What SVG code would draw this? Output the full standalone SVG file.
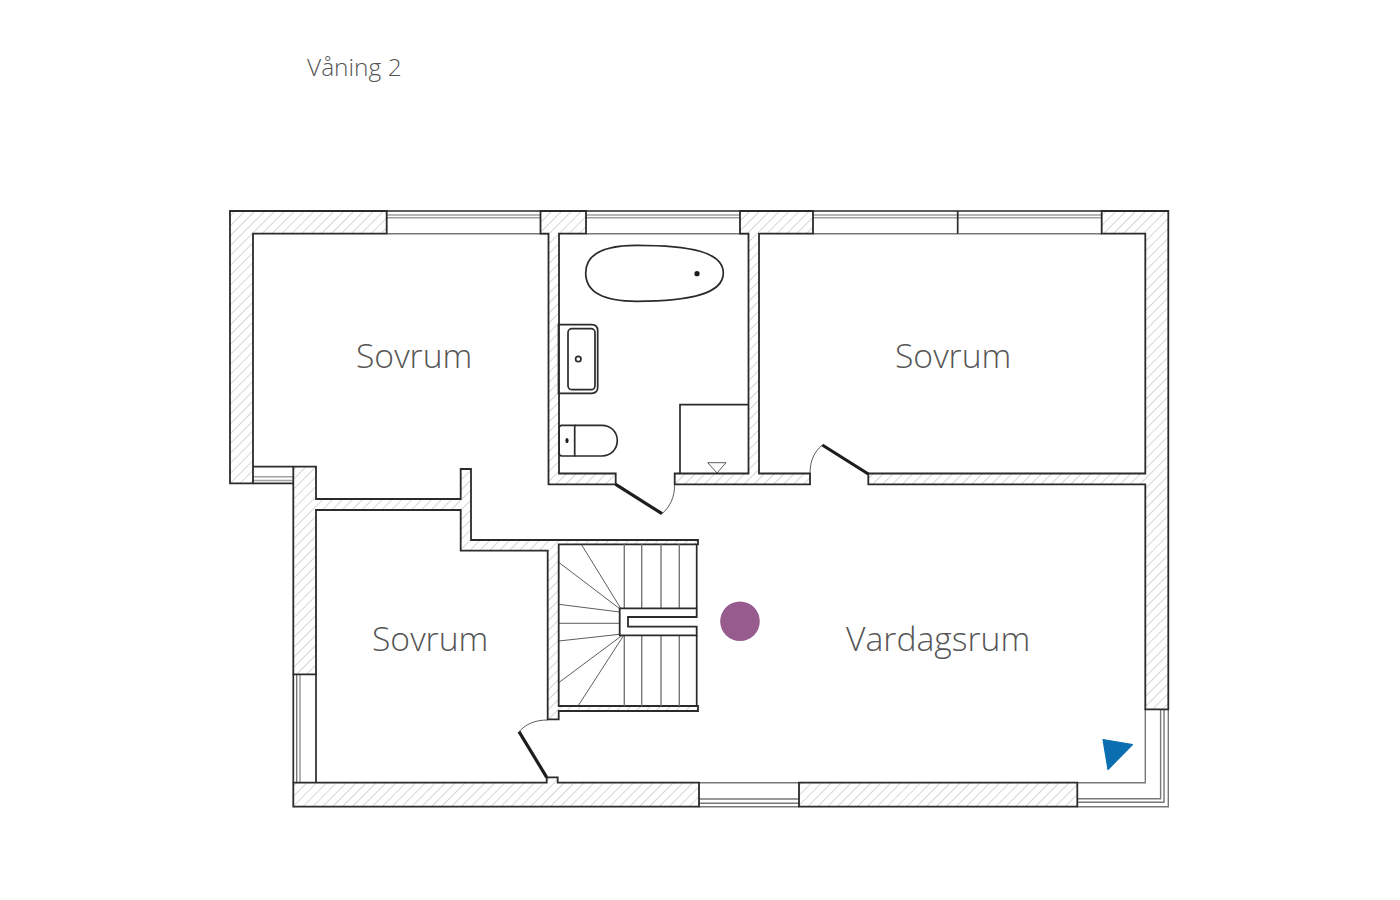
<svg xmlns="http://www.w3.org/2000/svg" width="1400" height="900" viewBox="0 0 1400 900">
<style>
.wall{fill:url(#hatch);stroke:#2b2b2b;stroke-width:1.8;stroke-linejoin:miter}
.line{fill:none;stroke:#2b2b2b;stroke-width:1.7}
.thin{fill:none;stroke:#333;stroke-width:.8}
.grey{fill:none;stroke:#777;stroke-width:1.4}
.glass{fill:none;stroke:#a0a0a0;stroke-width:1.6}
.leaf{fill:none;stroke:#1d1d1b;stroke-width:3.2}
.fix{fill:#fff;stroke:#2b2b2b;stroke-width:1.8}
.label{font-family:"Open Sans","Noto Sans",sans-serif;font-weight:300;fill:#555;font-size:33.7px}
</style>
<defs>
<pattern id="hatch" patternUnits="userSpaceOnUse" width="7" height="7" patternTransform="rotate(45)">
<rect width="7" height="7" fill="#fff"/>
<line x1="0" y1="0" x2="0" y2="7" stroke="#999" stroke-width=".8"/>
</pattern>
</defs>
<rect width="1400" height="900" fill="#fff"/>
<g id="windows">
<path class="line" d="M387 211H540M586 211H740M813 211H1102"/>
<path class="glass" d="M387 215H540M387 217.7H540M586 215H740M586 217.7H740M813 215H1102M813 217.7H1102"/>
<path class="grey" d="M387 233.7H548.5M586 233.7H748.5M813 233.7H1102"/>
<path class="line" d="M957.7 211V233.7"/>
<path class="line" d="M253 466.7H293.3"/>
<path class="glass" d="M253 476.7H293.3M253 480.5H293.3"/>
<path class="line" d="M253 483.3H293.3"/>
<path class="line" d="M293.3 674.3V782.7M316 674.3V782.7"/>
<path class="grey" d="M296.7 674.3V782.7"/>
<path class="glass" d="M300 674.3V782.7"/>
<path class="grey" d="M558 782.7H1145.3V709.3"/>
<path class="grey" d="M699 806.7H799"/>
<path class="grey" d="M699 799H799M699 803.3H799"/>
<path class="grey" d="M1077.3 798.7H1160.6V709.3M1077.3 802.3H1164V709.3"/>
<path class="grey" d="M1077.3 806.7H1168.3V709.3"/>
</g>
<g id="walls">
<path id="wall-nw" class="wall" d="M230 211H386.7V233.7H253V483.3H230Z"/>
<path id="wall-bath-w" class="wall" d="M540.5 211H586V233.7H559V473.5H615.7V484.3H548.5V233.7H540.5Z"/>
<path id="wall-bath-e" class="wall" d="M740 211H813V233.7H759V473.5H810V484.3H674.7V473.5H748.5V233.7H740Z"/>
<path id="wall-east" class="wall" d="M1101.7 211H1168.3V709.3H1145.3V484.3H868.3V473.5H1145.3V233.7H1101.7Z"/>
<path id="wall-sw" class="wall" d="M293.3 466.7H316V499H460.7V469H471V540H698V544.3H558.7V706H698V711H558.7V719.3H547.7V550.7H460.7V510H316V674.3H293.3Z"/>
<path id="wall-s1" class="wall" d="M293.3 782.7H546.7V777.3H557.7V782.7H699V806.7H293.3Z"/>
<path id="wall-s2" class="wall" d="M799 782.7H1077.3V806.7H799Z"/>
</g>
<g id="doors">
<path class="leaf" d="M615.7 484.3L662 513.7"/>
<path class="thin" d="M662 513.7C670 507 674.7 497 674.7 484.3"/>
<path class="leaf" d="M822.3 445L868.3 474"/>
<path class="thin" d="M822.3 445C814 452 810 461 810 473.5"/>
<path class="leaf" d="M546.7 777.3L519 731.7"/>
<path class="thin" d="M519 731.7C526 724 535 720 547.7 720"/>
</g>
<g id="bath">
<path class="line" d="M585.7 273C585.7 254 604 245.3 636.7 245.3C690 245.3 723.3 252 723.3 273C723.3 294 690 301.3 636.7 301.3C604 301.3 585.7 292 585.7 273Z"/>
<circle cx="697" cy="273.7" r="2.6" fill="#1d1d1b"/>
</g>
<g id="sink">
<path class="line" d="M558.5 324.7H591.7Q597.7 324.7 597.7 330.7V387.3Q597.7 393.3 591.7 393.3H558.5Z"/>
<rect class="line" x="568" y="328.7" width="27" height="61" rx="4"/>
<circle class="line" cx="578.3" cy="359" r="2.7"/>
</g>
<g id="toilet">
<path class="line" d="M574.7 425.3H602C611 425.3 617.3 432 617.3 440.6C617.3 449 611 456 602 456H574.7"/>
<path class="line" d="M574.7 425.3V456H562Q559 456 559 453V428Q559 425.3 562 425.3Z"/>
<ellipse cx="567" cy="440.6" rx="1.6" ry="2.6" fill="#1d1d1b"/>
</g>
<g id="shower">
<path class="line" d="M748.5 404.7H680V473.5"/>
<path class="thin" d="M707.7 462.7H726L717 473Z"/>
</g>
<g id="stairs">
<path class="grey" d="M624.3 544.3V608.3M641.7 544.3V608.3M661 544.3V608.3M679.3 544.3V608.3M624.3 635.3V706M641.7 635.3V706M661 635.3V706M679.3 635.3V706"/>
<path class="thin" d="M581.3 544.3L620.7 608.3M558.7 562.3L619.7 608.7M558.7 604.3L619.7 612M558.7 623.3H619.7M558.7 641L619.7 634.3M558.7 682.7L622 635.5M578 706L623.3 636"/>
<path class="line" d="M696.7 544.3V608.3M696.7 635.3V706"/>
<path class="fix" d="M696.7 608.3H619.7V635.3H696.7V626.7H628V617H696.7Z"/>
</g>
<g id="markers">
<circle id="viewpoint" cx="740" cy="621.3" r="19.8" fill="#985b8e"/>
<path id="camera" d="M1103 739.5L1132.5 744.5L1108 769.5Z" fill="#0a6eb0" stroke="#0a6eb0" stroke-width="1.2" stroke-linejoin="round"/>
</g>
<g id="labels">
<text class="label" x="356" y="368">Sovrum</text>
<text class="label" x="895" y="368">Sovrum</text>
<text class="label" x="372" y="651">Sovrum</text>
<text class="label" x="846" y="651">Vardagsrum</text>
<text class="label" x="307" y="76" style="font-size:24.5px">Våning 2</text>
</g>
</svg>
